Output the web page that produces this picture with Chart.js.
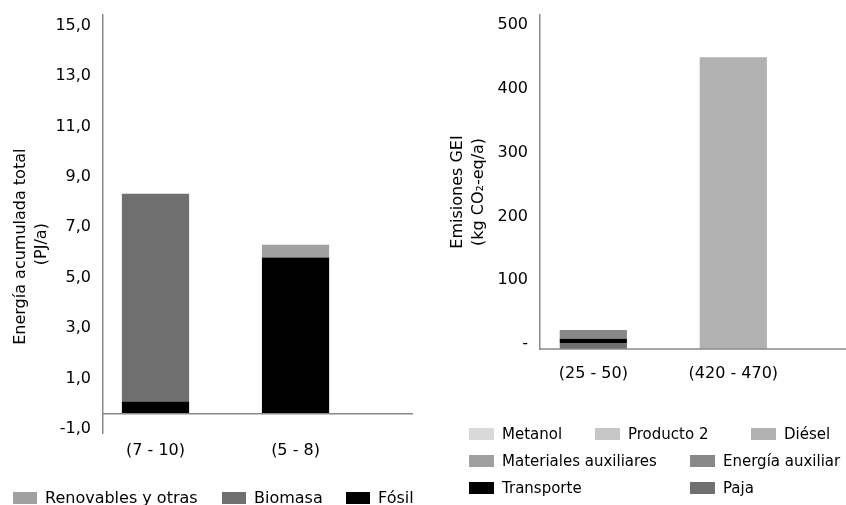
<!DOCTYPE html>
<html><head><meta charset="utf-8">
<script src="https://cdn.jsdelivr.net/npm/chart.js@4/dist/chart.umd.min.js"></script>
<style>
html,body{margin:0;padding:0;background:#fff;}
body{width:846px;height:505px;position:relative;overflow:hidden;font-family:"DejaVu Sans",sans-serif;font-size:16px;color:#000;}
.wrap{position:absolute;top:0;height:505px;}
.lg{position:absolute;display:flex;align-items:center;white-space:nowrap;height:14px;line-height:14px;}
.lg i{display:inline-block;height:12px;margin-right:8px;flex:none;}
.lg.small{font-size:15px;}
</style></head><body>
<div class="wrap" style="left:0;width:420px"><canvas id="c1"></canvas></div>
<div class="wrap" style="left:420px;width:426px"><canvas id="c2"></canvas></div>
<div id="legends"></div>
<script>
// ---- Data: energy chart (left) ----
const energyCategories = ['(7 - 10)', '(5 - 8)'];
const fosil = [0.49, 6.20];
const biomasa = [8.24, 0];
const renovables = [0, 0.50];
const energyTicks = [-1, 1, 3, 5, 7, 9, 11, 13, 15];

// ---- Data: GHG chart (right) ----
const ghgCategories = ['(25 - 50)', '(420 - 470)'];
const paja = [9.4, 0];
const transporte = [6.7, 0];
const energiaAux = [13.6, 0];
const materialesAux = [0, 0];
const diesel = [0, 457.8];
const producto2 = [0, 0];
const metanol = [0, 0];
const ghgTicks = [0, 100, 200, 300, 400, 500];

const FONT = {family: 'DejaVu Sans', size: 16};
const AXIS = '#8a8a8a';

const zeroLine = {
  id: 'zeroLine',
  afterDatasetsDraw(chart, args, opts) {
    const y = chart.scales.y.getPixelForValue(0);
    const {left, right} = chart.chartArea;
    const ctx = chart.ctx;
    ctx.save();
    ctx.strokeStyle = opts.color; ctx.lineWidth = opts.width;
    ctx.beginPath(); ctx.moveTo(left, y); ctx.lineTo(right, y); ctx.stroke();
    ctx.restore();
  }
};

function pts(arr) { return arr.map((v, i) => ({x: i, y: v})); }
function ds(label, arr, color) {
  return {label, data: pts(arr), backgroundColor: color, borderWidth: 0,
          categoryPercentage: 1, barPercentage: 0.48};
}

function makeChart(id, cfg) {
  return new Chart(document.getElementById(id), {
    type: 'bar',
    data: {datasets: cfg.datasets},
    plugins: [zeroLine],
    options: {
      responsive: true, maintainAspectRatio: false, animation: false,
      layout: {padding: cfg.padding},
      plugins: {legend: {display: false}, tooltip: {enabled: false},
                zeroLine: {color: AXIS, width: 1.5}},
      scales: {
        x: {
          type: 'linear', stacked: true, offset: false,
          min: cfg.xMin, max: cfg.xMax,
          grid: {display: false, drawTicks: false},
          border: {display: false},
          afterBuildTicks: s => { s.ticks = cfg.categories.map((c, i) => ({value: i})); },
          afterFit: s => { s.height = 40; },
          ticks: {font: FONT, color: '#000', padding: cfg.xPad, maxRotation: 0,
                  callback: v => cfg.categories[v]}
        },
        y: {
          stacked: true, min: cfg.yMin, max: cfg.yMax,
          grid: {display: false, drawTicks: true, tickLength: 7},
          border: {display: true, color: AXIS, width: 1.5},
          afterBuildTicks: s => { s.ticks = cfg.ticks.map(v => ({value: v})); },
          afterFit: s => { s.width = cfg.yWidth; },
          ticks: {font: FONT, color: '#000', padding: 5, labelOffset: cfg.labelOffset,
                  callback: cfg.fmt},
          title: {display: true, text: cfg.title, color: '#000',
                  font: {family: 'DejaVu Sans', size: 16, lineHeight: 1.34},
                  padding: {top: cfg.titlePad, bottom: 0}}
        }
      }
    }
  });
}

const c1 = makeChart('c1', {
  categories: energyCategories,
  datasets: [
    ds('Fósil', fosil, '#000000'),
    ds('Biomasa', biomasa, '#6f6f6f'),
    ds('Renovables y otras', renovables, '#a0a0a0')
  ],
  padding: {top: 13, right: 7, bottom: 32, left: 0},
  xMin: -0.375, xMax: 1.839, xPad: 8,
  yMin: -0.76, yMax: 15.83, ticks: energyTicks, labelOffset: -10,
  fmt: v => v.toFixed(1).replace('.', ','),
  yWidth: 103, titlePad: 10,
  title: ['Energía acumulada total         ', '(PJ/a)        ']
});

const c2 = makeChart('c2', {
  categories: ghgCategories,
  datasets: [
    ds('Paja', paja, '#6f6f6f'),
    ds('Transporte', transporte, '#000000'),
    ds('Energía auxiliar', energiaAux, '#888888'),
    ds('Materiales auxiliares', materialesAux, '#9f9f9f'),
    ds('Diésel', diesel, '#b2b2b2'),
    ds('Producto 2', producto2, '#c6c6c6'),
    ds('Metanol', metanol, '#d9d9d9')
  ],
  padding: {top: 13, right: 0, bottom: 116, left: 0},
  xMin: -0.381, xMax: 1.805, xPad: 15,
  yMin: 0, yMax: 524.5, ticks: ghgTicks, labelOffset: -5,
  fmt: v => v === 0 ? '-' : String(v),
  yWidth: 120, titlePad: 27,
  title: ['Emisiones GEI    ', '(kg CO₂-eq/a)    ']
});

// ---- HTML legends built from the charts' datasets (legend order = reversed stack order) ----
const leftLegendPos = [[13, 492], [222, 492], [346, 492]];
const rightLegendPos = [[469, 428], [595, 428], [751, 428], [469, 455], [690, 455], [469, 482], [690, 482]];
function buildLegend(chart, pos, boxW, cls) {
  const items = chart.data.datasets.slice().reverse();
  const host = document.getElementById('legends');
  items.forEach((d, i) => {
    const el = document.createElement('div');
    el.className = 'lg' + (cls ? ' ' + cls : '');
    el.style.left = pos[i][0] + 'px';
    el.style.top = (pos[i][1] - 1) + 'px';
    const b = document.createElement('i');
    b.style.width = boxW + 'px';
    b.style.background = d.backgroundColor;
    const t = document.createElement('span');
    t.textContent = d.label;
    el.appendChild(b); el.appendChild(t);
    host.appendChild(el);
  });
}
buildLegend(c1, leftLegendPos, 24, '');
buildLegend(c2, rightLegendPos, 25, 'small');
</script>
</body></html>
